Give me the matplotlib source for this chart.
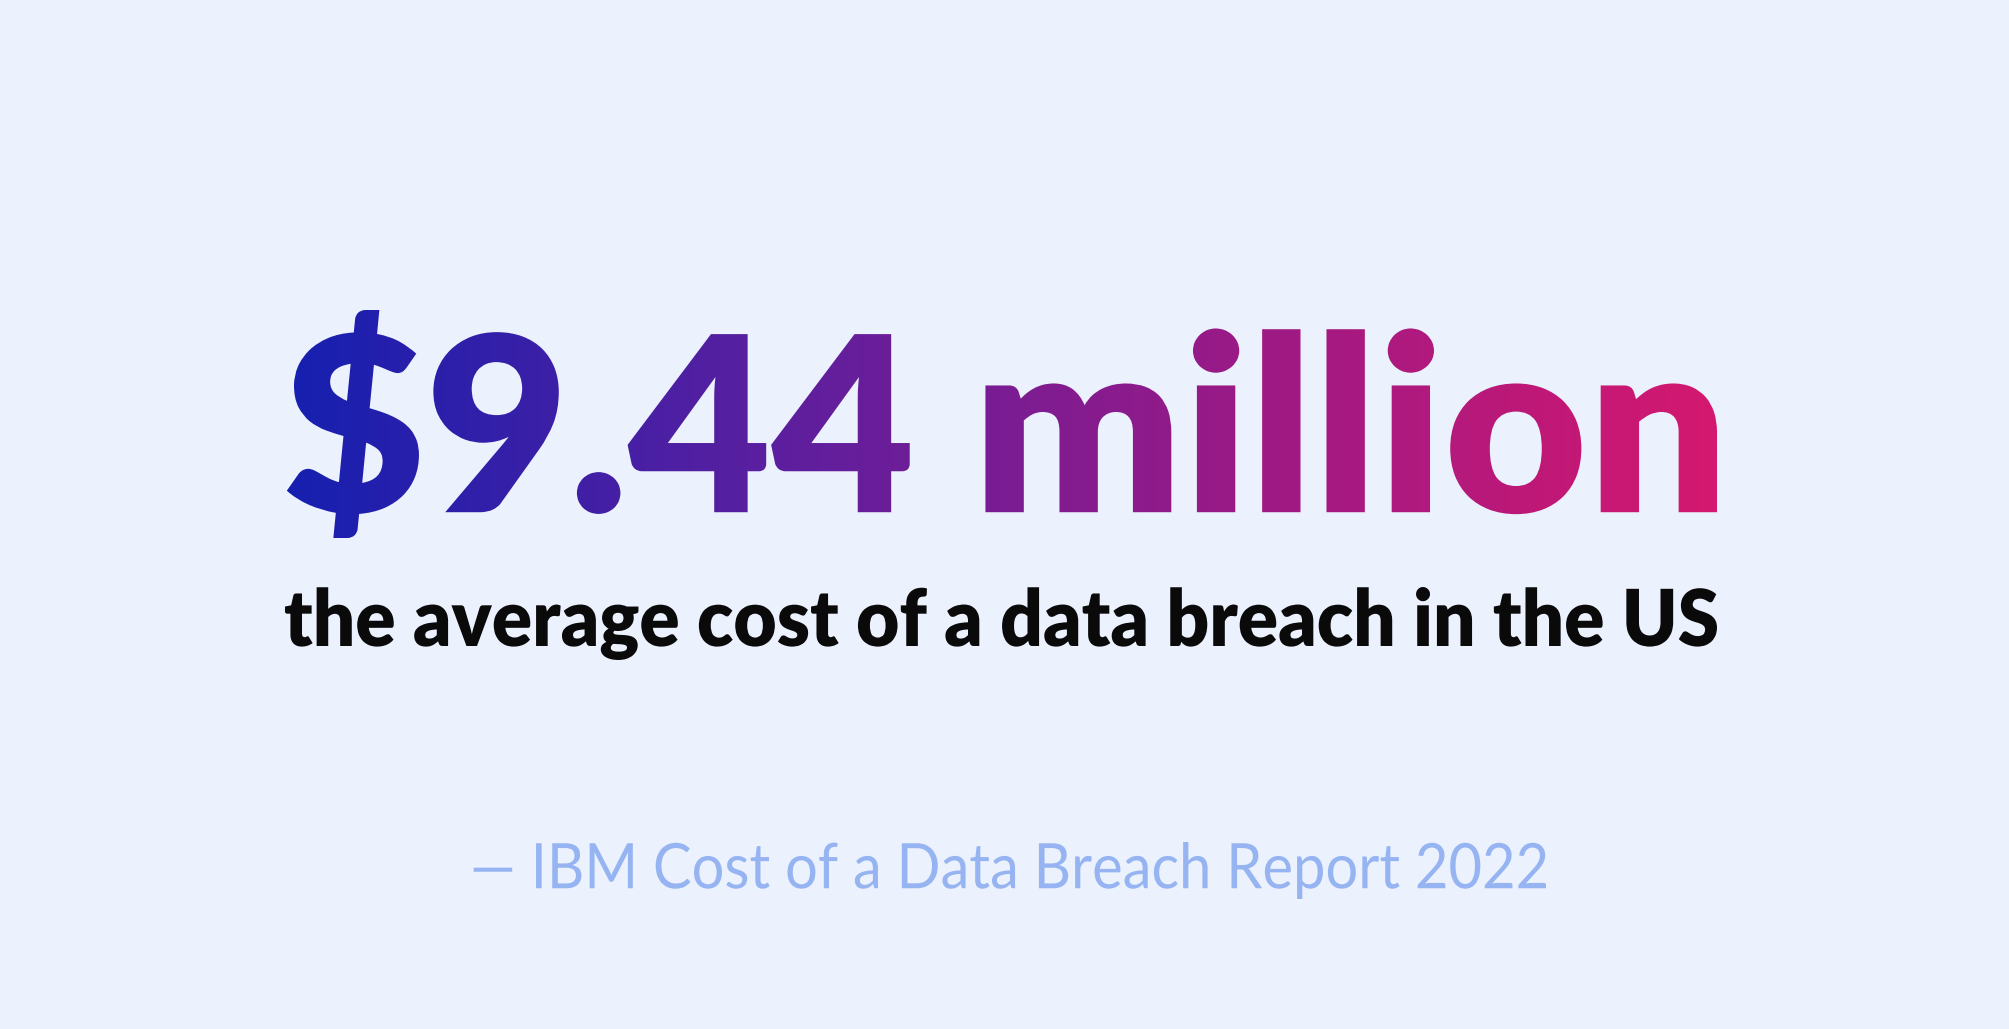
import numpy as np
import matplotlib
matplotlib.use("Agg")
import matplotlib.pyplot as plt
from matplotlib.textpath import TextPath
from matplotlib.font_manager import FontProperties
from matplotlib.patches import PathPatch
from matplotlib.path import Path
from matplotlib.colors import LinearSegmentedColormap

headline = "$9.44 million"
subtitle = "the average cost of a data breach in the US"
source = "— IBM Cost of a Data Breach Report 2022"

W, H = 2009, 1029
fig = plt.figure(figsize=(W/100, H/100), dpi=100)
fig.patch.set_facecolor("#ebf1fd")
ax = fig.add_axes([0, 0, 1, 1])
ax.set_xlim(0, W); ax.set_ylim(H, 0); ax.axis("off")

def fitted(text, fp, x0, x1, ytop, ybot):
    tp = TextPath((0, 0), text, size=100, prop=fp)
    v = tp.vertices.copy()
    mn, mx = v.min(0), v.max(0)
    sx = (x1 - x0) / (mx[0] - mn[0])
    sy = (ybot - ytop) / (mx[1] - mn[1])
    nv = np.empty_like(v)
    nv[:, 0] = x0 + (v[:, 0] - mn[0]) * sx
    nv[:, 1] = ybot - (v[:, 1] - mn[1]) * sy
    return Path(nv, tp.codes)

# headline with gradient
p = fitted(headline, FontProperties(family="Lato", weight="heavy"), 282, 1717, 310, 538)
cmap = LinearSegmentedColormap.from_list("g", ["#1520b0", "#5a1fa0", "#9a1a86", "#d4186f"])
grad = np.linspace(0, 1, 512)[None, :]
im = ax.imshow(grad, cmap=cmap, extent=(282, 1717, 538, 310), aspect="auto", zorder=2)
patch = PathPatch(p, facecolor="none", edgecolor="none")
ax.add_patch(patch)
im.set_clip_path(patch)
ax.set_xlim(0, W); ax.set_ylim(H, 0)

p2 = fitted(subtitle, FontProperties(family="Lato", weight="heavy"), 284, 1717, 587, 660)
ax.add_patch(PathPatch(p2, facecolor="#0a0a0a", edgecolor="none", zorder=3))

p3 = fitted(source, FontProperties(family="Lato", weight="normal"), 470, 1546, 842, 899)
ax.add_patch(PathPatch(p3, facecolor="#96b4f2", edgecolor="none", zorder=3))

fig.savefig("out.png", dpi=100, facecolor=fig.get_facecolor())
